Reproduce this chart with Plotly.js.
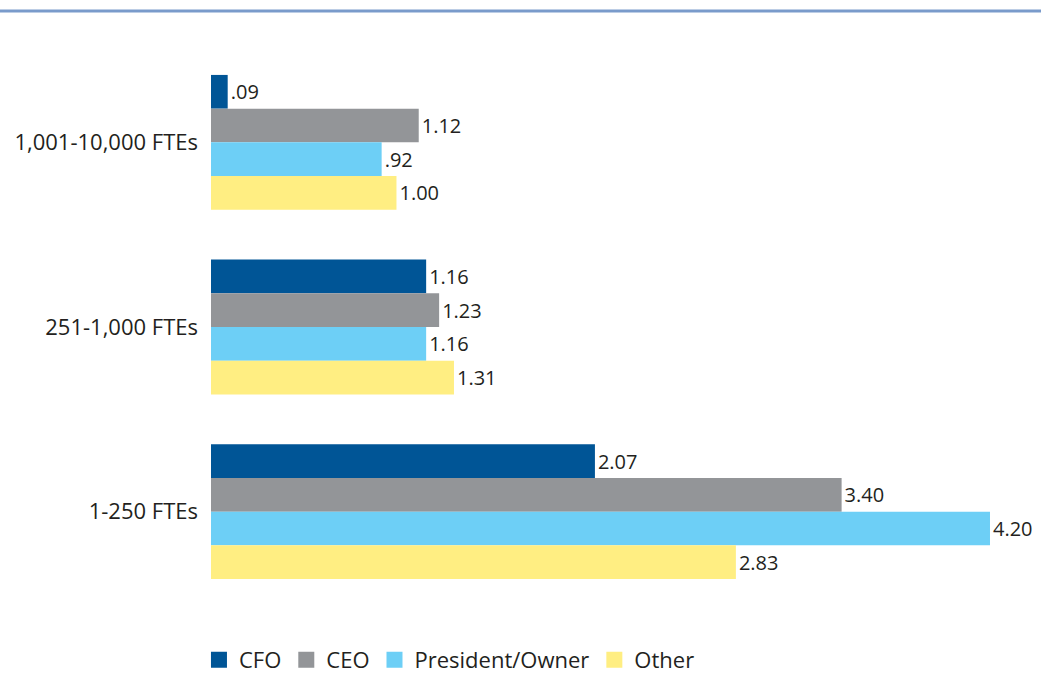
<!DOCTYPE html>
<html>
<head>
<meta charset="utf-8">
<script src="https://cdn.plot.ly/plotly-3.0.1.min.js"></script>
<style>html,body{margin:0;padding:0;background:#fff;}#chart{width:1041px;height:673px;}</style>
</head>
<body>
<div id="chart"></div>
<script>
const categories = ['1,001-10,000 FTEs', '251-1,000 FTEs', '1-250 FTEs'];
const seriesNames = ['CFO', 'CEO', 'President/Owner', 'Other'];
const cfo = [0.09, 1.16, 2.07];
const ceo = [1.12, 1.23, 3.40];
const president = [0.92, 1.16, 4.20];
const other = [1.00, 1.31, 2.83];
const seriesValues = [cfo, ceo, president, other];
const colors = ['#005596', '#939598', '#6dcff6', '#ffee82'];
const FONT = '"Open Sans", sans-serif';

function fmt(v) {
  let s = v.toFixed(2);
  if (s.startsWith('0')) s = s.slice(1);
  return s;
}

const barTraces = seriesNames.map((name, i) => ({
  type: 'bar',
  orientation: 'h',
  name: name,
  y: categories,
  x: seriesValues[i],
  text: seriesValues[i].map(fmt),
  textposition: 'outside',
  cliponaxis: false,
  textfont: {family: FONT, size: 20, color: '#231f20'},
  marker: {color: colors[i]},
  showlegend: false,
  legendgroup: name,
  hoverinfo: 'x+name'
}));

// legend-only proxies (larger square swatches)
const legendTraces = seriesNames.map((name, i) => ({
  type: 'scatter',
  mode: 'markers',
  name: name,
  x: [null],
  y: [null],
  marker: {symbol: 'square', size: 16, color: colors[i]},
  legendgroup: name,
  showlegend: true,
  hoverinfo: 'skip'
}));

const layout = {
  width: 1041,
  height: 673,
  margin: {l: 211, r: 0, t: 50, b: 69, autoexpand: false},
  paper_bgcolor: '#fff',
  plot_bgcolor: '#fff',
  barmode: 'group',
  bargap: 0.27,
  bargroupgap: 0,
  showlegend: true,
  font: {family: FONT, color: '#231f20'},
  xaxis: {
    range: [0, 4.475],
    visible: false,
    showgrid: false,
    zeroline: false
  },
  yaxis: {
    type: 'category',
    range: [2.5, -0.5],
    showgrid: false,
    zeroline: false,
    showline: false,
    ticks: '',
    ticklabelstandoff: 12,
    tickfont: {family: FONT, size: 22, color: '#231f20'}
  },
  legend: {
    orientation: 'h',
    x: -0.0145,
    xanchor: 'left',
    y: -0.101,
    yanchor: 'middle',
    font: {family: FONT, size: 22, color: '#231f20'},
    itemwidth: 30,
    traceorder: 'normal'
  },
  shapes: [{
    type: 'line',
    xref: 'paper', yref: 'paper',
    x0: -0.26, x1: 1.0,
    y0: 1.0704, y1: 1.0704,
    line: {color: '#7a9bcb', width: 3}
  }]
};

Plotly.newPlot('chart', barTraces.concat(legendTraces), layout, {displayModeBar: false, staticPlot: true});
</script>
</body>
</html>
